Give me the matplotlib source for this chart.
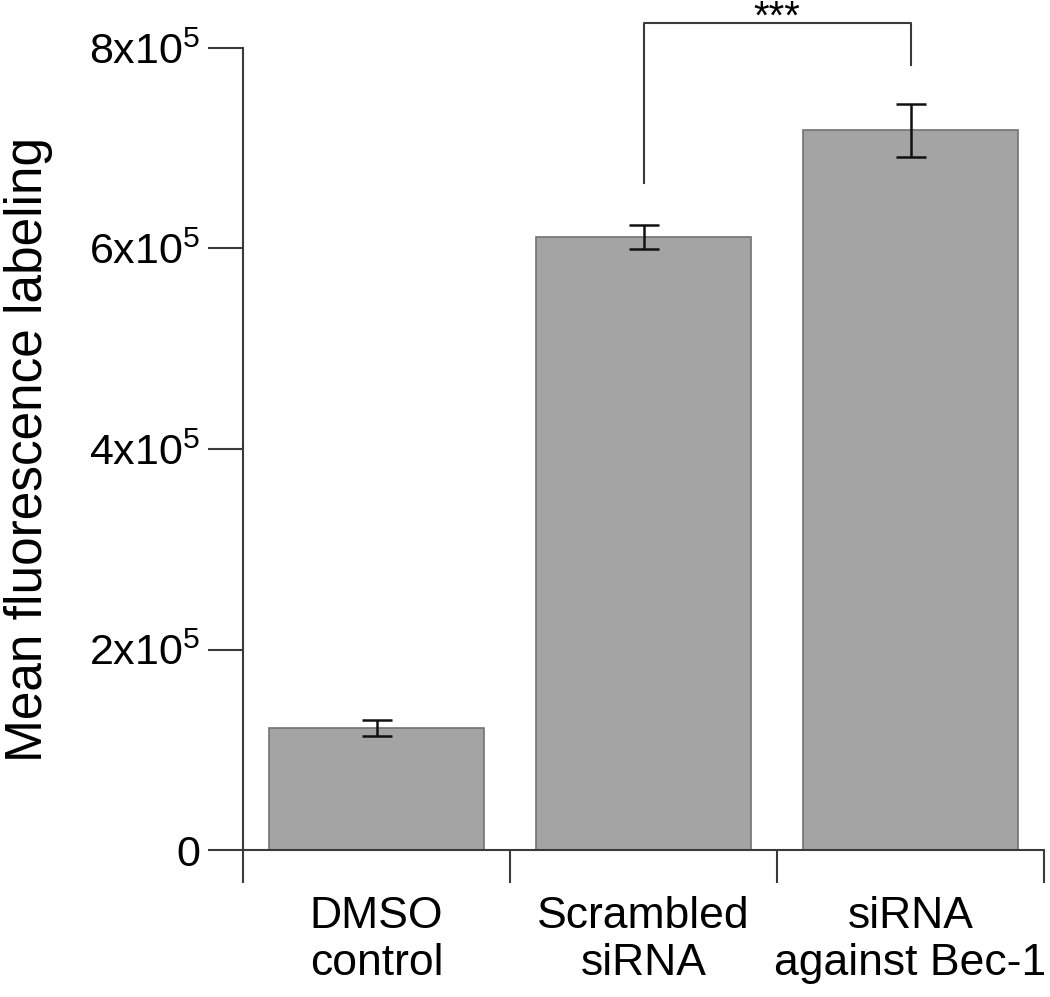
import numpy as np
import matplotlib
matplotlib.use('Agg')
import matplotlib.pyplot as plt

# data
categories = ['DMSO\ncontrol', 'Scrambled\nsiRNA', 'siRNA\nagainst Bec-1']
means = [1.217e5, 6.115e5, 7.18e5]
errors = [0.08e5, 0.12e5, 0.265e5]
y_ticks = [0, 2e5, 4e5, 6e5, 8e5]
y_tick_labels = ['0', '2x10$^5$', '4x10$^5$', '6x10$^5$', '8x10$^5$']

# significance bracket (between bar 1 and bar 2)
sig_pair = (1, 2)
sig_top = 8.25e5
sig_bottoms = (6.65e5, 7.83e5)
sig_label = '***'

plt.rcParams['font.family'] = ['Liberation Sans', 'DejaVu Sans']
plt.rcParams['mathtext.fontset'] = 'custom'
plt.rcParams['mathtext.rm'] = 'Liberation Sans'
plt.rcParams['mathtext.it'] = 'Liberation Sans'
plt.rcParams['mathtext.default'] = 'rm'

axis_color = '#3a3a3a'

fig = plt.figure(figsize=(10.5, 9.97), dpi=100)
ax = fig.add_axes([243 / 1050, 1 - 850 / 997, (1044 - 243) / 1050, (850 - 48) / 997])

x = np.arange(len(categories))
ax.bar(x, means, width=0.805, color='#a4a4a4', edgecolor='#727272', linewidth=1.2, zorder=2)
ax.errorbar(x, means, yerr=errors, fmt='none', ecolor='#111111', elinewidth=1.8,
            capsize=10.5, capthick=1.8, zorder=3)

ax.set_xlim(-0.5, 2.5)
ax.set_ylim(0, 8e5)

for side in ['top', 'right']:
    ax.spines[side].set_visible(False)
for side in ['left', 'bottom']:
    ax.spines[side].set_color(axis_color)
    ax.spines[side].set_linewidth(1.5)

# y ticks
ax.set_yticks(y_ticks)
ax.set_yticklabels(y_tick_labels)
ax.tick_params(axis='y', direction='out', length=25, width=1.5, color=axis_color,
               labelsize=31, pad=6)

# x: boundary ticks (major), category labels (minor)
ax.set_xticks([-0.5, 0.5, 1.5, 2.5])
ax.set_xticklabels([])
ax.set_xticks(x, minor=True)
ax.set_xticklabels(categories, minor=True, linespacing=1.2)
ax.tick_params(axis='x', which='major', direction='out', length=24, width=1.5, color=axis_color)
ax.tick_params(axis='x', which='minor', length=0, labelsize=32, pad=33)

ax.set_ylabel('Mean fluorescence labeling', fontsize=37)
ax.yaxis.set_label_coords(-0.237, 0.5)

# significance bracket
x1, x2 = sig_pair
ax.plot([x1, x1, x2, x2], [sig_bottoms[0], sig_top, sig_top, sig_bottoms[1]],
        color=axis_color, linewidth=1.5, clip_on=False, zorder=4)
ax.text((x1 + x2) / 2, sig_top - 0.06e5, sig_label, ha='center', va='baseline',
        fontsize=29, clip_on=False)

fig.savefig('out.png', dpi=100)
